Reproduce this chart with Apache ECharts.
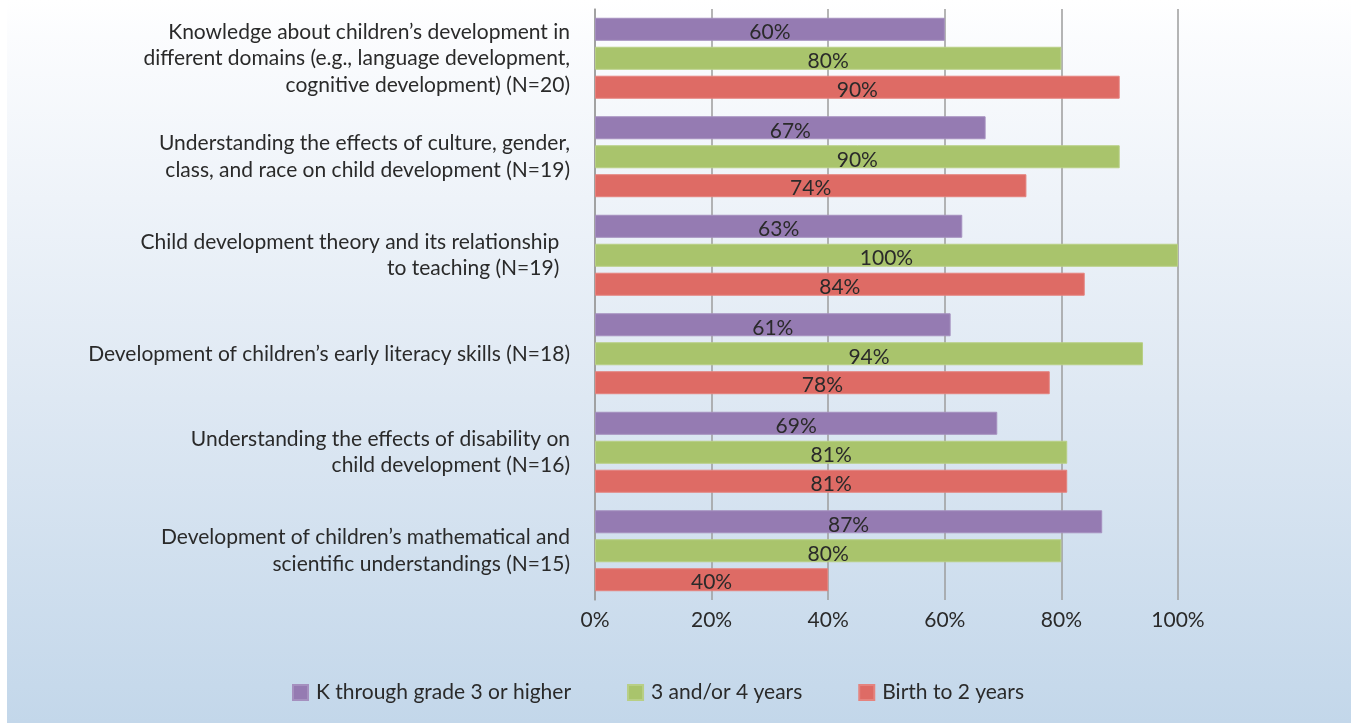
<!DOCTYPE html>
<html>
<head>
<meta charset="utf-8">
<script src="https://cdn.jsdelivr.net/npm/echarts@6/dist/echarts.min.js"></script>
<style>
  html, body { margin: 0; padding: 0; background: #ffffff; }
  #chart { width: 1351px; height: 723px; }
</style>
</head>
<body>
<div id="chart"></div>
<script>
// Topics of coursework, top to bottom
const topics = [
  "Knowledge about children\u2019s development in\ndifferent domains (e.g., language development,\ncognitive development) (N=20)",
  "Understanding the effects of culture, gender,\nclass, and race on child development (N=19)",
  "Child development theory and its relationship  \nto teaching (N=19)  ",
  "Development of children\u2019s early literacy skills (N=18)",
  "Understanding the effects of disability on\nchild development (N=16)",
  "Development of children\u2019s mathematical and\nscientific understandings (N=15)"
];

// Percent of programs, per age group
const kThroughGrade3 = [60, 67, 63, 61, 69, 87];
const threeFourYears = [80, 90, 100, 94, 81, 80];
const birthToTwo     = [90, 74, 84, 78, 81, 40];

const seriesNames = ["K through grade 3 or higher", "3 and/or 4 years", "Birth to 2 years"];
const xTicks = [0, 20, 40, 60, 80, 100];

const FONT = "Lato";
const TEXT = "#2a2a2a";

const chart = echarts.init(document.getElementById("chart"), null, { renderer: "canvas" });

function barSeries(name, data, color, border) {
  return {
    name: name,
    type: "bar",
    data: data,
    barWidth: 23,
    barGap: "26%",
    itemStyle: { color: color, borderColor: border, borderWidth: 1 },
    label: {
      show: true,
      position: "inside",
      offset: [0, 3],
      formatter: "{c}%",
      color: TEXT,
      fontFamily: FONT,
      fontSize: 21
    },
    emphasis: { disabled: true }
  };
}

chart.setOption({
  animation: false,
  graphic: [{
    type: "rect",
    left: 7, top: 0,
    shape: { width: 1344, height: 723 },
    z: -10,
    silent: true,
    style: {
      fill: new echarts.graphic.LinearGradient(0, 0, 0, 1, [
        { offset: 0, color: "#ffffff" },
        { offset: 0.05, color: "#fbfcfe" },
        { offset: 0.5, color: "#e1eaf4" },
        { offset: 1, color: "#c3d7ea" }
      ])
    }
  }],
  grid: { left: 595, right: 173, top: 9, bottom: 123, containLabel: false },
  legend: {
    left: 287,
    top: 677,
    itemWidth: 15,
    itemHeight: 15,
    itemGap: 56,
    icon: "rect",
    data: seriesNames,
    textStyle: { color: TEXT, fontFamily: FONT, fontSize: 21, padding: [0, 0, 0, 3] }
  },
  xAxis: {
    type: "value",
    min: 0,
    max: 100,
    interval: 20,
    axisLine: { show: false },
    axisTick: { show: false },
    splitLine: { show: true, lineStyle: { color: "#9c9c9c", width: 1.5 } },
    axisLabel: {
      margin: 10,
      color: TEXT,
      fontFamily: FONT,
      fontSize: 21,
      formatter: function (v) { return xTicks.indexOf(v) >= 0 ? v + "%" : ""; }
    }
  },
  yAxis: {
    type: "category",
    inverse: true,
    data: topics,
    axisLine: { show: true, lineStyle: { color: "#9c9c9c", width: 1.5 } },
    axisTick: { show: false },
    axisLabel: {
      margin: 25,
      color: TEXT,
      fontFamily: FONT,
      fontSize: 21,
      lineHeight: 26.5,
      align: "right"
    }
  },
  series: [
    barSeries(seriesNames[0], kThroughGrade3, "#957bb2", "#a590bf"),
    barSeries(seriesNames[1], threeFourYears, "#a9c46c", "#b8cf85"),
    barSeries(seriesNames[2], birthToTwo, "#de6b65", "#e5837e")
  ]
});
</script>
</body>
</html>
